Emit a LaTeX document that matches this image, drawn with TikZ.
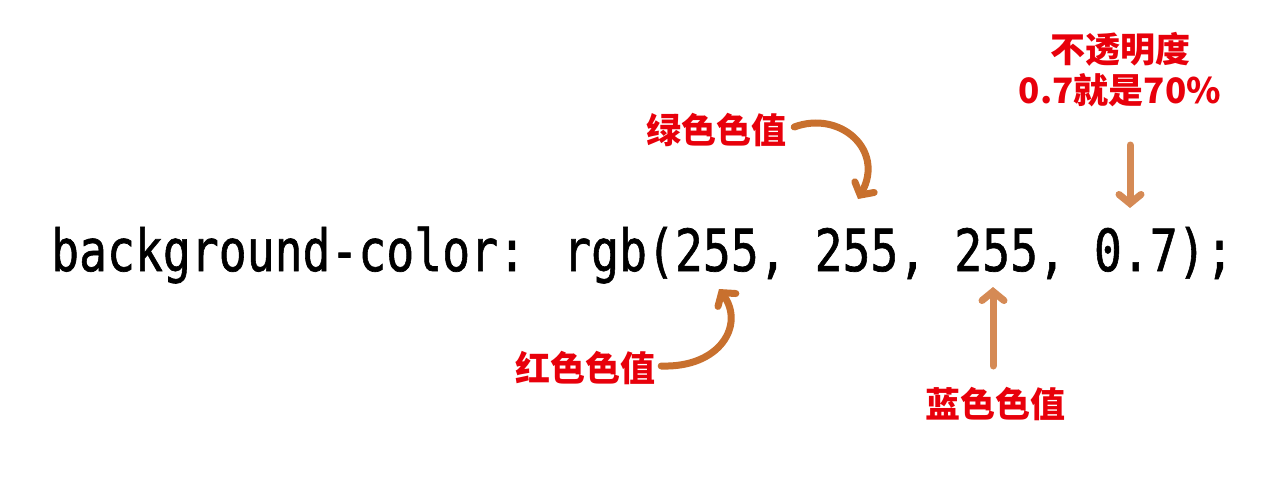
\documentclass[tikz,border=0pt]{standalone}
\usepackage{fontspec}
\newfontfamily\codefont{DejaVu Sans Mono}[FakeBold=1.2]
\newfontfamily\cjk{Noto Sans CJK SC}
\usetikzlibrary{arrows.meta}
\definecolor{labelred}{HTML}{E8000B}
\definecolor{arrowdark}{HTML}{C8702E}
\definecolor{arrowlight}{HTML}{D58A55}
\tikzset{
  codetext/.style={inner sep=0pt, font=\codefont\fontsize{58}{58}\selectfont, text=black, xscale=0.80},
  cnlabel/.style={inner sep=0pt, text=labelred, font=\cjk\bfseries\fontsize{35}{41}\selectfont, align=center},
  pointer/.style={line width=7pt, line cap=round, -{Straight Barb[length=9pt,width=22pt,line cap=round]}},
}
\begin{document}
\begin{tikzpicture}[x=1pt,y=-1pt]
\useasboundingbox[fill=white] (0,0) rectangle (1275,480);
\node[codetext, anchor=base west] (code) at (51,271) {background-color: rgb(255, 255, 255, 0.7);};
\node[cnlabel] (green) at (716,130) {绿色色值};
\node[cnlabel] (red) at (585,368) {红色色值};
\node[cnlabel] (blue) at (995,404) {蓝色色值};
\node[cnlabel] (alpha) at (1120,70) {不透明度\\0.7就是70\%};
\coordinate (gend) at (858,199);
\coordinate (rend) at (719,289);
\coordinate (bend) at (993,287);
\coordinate (aend) at (1130,208);
\coordinate (astart) at (1130,145);
\coordinate (bstart) at (993,366);
\draw[pointer, draw=arrowdark] (green.east) ++(8,-3) .. controls (840,110) and (885,150) .. (gend);
\draw[pointer, draw=arrowdark] (red.east) ++(6,-2) .. controls (720,368) and (745,325) .. (rend);
\draw[pointer, draw=arrowlight] (bstart) -- (bend);
\draw[pointer, draw=arrowlight] (astart) -- (aend);
\end{tikzpicture}
\end{document}
